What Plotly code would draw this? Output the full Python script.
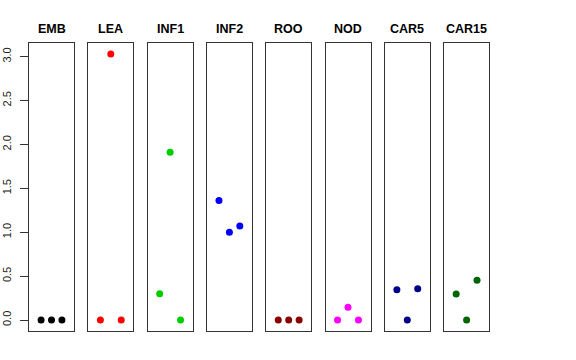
import plotly.graph_objects as go

groups = ["EMB", "LEA", "INF1", "INF2", "ROO", "NOD", "CAR5", "CAR15"]
colors = ["#000000", "#FF0000", "#00CD00", "#0000FF", "#8B0000", "#FF00FF", "#00008B", "#006400"]
x_pos = [1, 2, 3]
values = [
    [0.0, 0.0, 0.0],
    [0.0, 3.03, 0.0],
    [0.30, 1.91, 0.0],
    [1.36, 1.00, 1.07],
    [0.0, 0.0, 0.0],
    [0.0, 0.145, 0.0],
    [0.345, 0.0, 0.357],
    [0.296, 0.0, 0.452],
]
y_ticks = [0.0, 0.5, 1.0, 1.5, 2.0, 2.5, 3.0]

W, H = 576, 360
left0, pitch, pw = 29.0, 59.3, 45.0
top_px, bot_px = 42.7, 331.0

fig = go.Figure()
layout = dict(
    width=W, height=H,
    margin=dict(l=0, r=0, t=0, b=0),
    paper_bgcolor="white", plot_bgcolor="white",
    showlegend=False,
    font=dict(family="Liberation Sans, Arial, sans-serif", color="#000"),
)
annotations = []
for i, (g, c, v) in enumerate(zip(groups, colors, values)):
    xa = "xaxis" if i == 0 else f"xaxis{i+1}"
    ya = "yaxis" if i == 0 else f"yaxis{i+1}"
    xr = "x" if i == 0 else f"x{i+1}"
    yr = "y" if i == 0 else f"y{i+1}"
    fig.add_trace(go.Scatter(x=x_pos, y=v, mode="markers", xaxis=xr, yaxis=yr,
                             marker=dict(color=c, size=7, line=dict(width=0))))
    l = left0 + pitch * i
    dom = [l / W, (l + pw) / W]
    layout[xa] = dict(domain=dom, range=[-0.16, 4.16], showticklabels=False, ticks="",
                      showgrid=False, zeroline=False, showline=True, mirror=True,
                      linecolor="#333", linewidth=1, anchor=yr, fixedrange=True,
                      automargin=False)
    ydict = dict(domain=[(H - bot_px) / H, (H - top_px) / H], range=[-0.125, 3.158],
                 showgrid=False, zeroline=False, showline=True, mirror=True,
                 linecolor="#333", linewidth=1, anchor=xr, fixedrange=True,
                 automargin=False)
    if i == 0:
        ydict.update(tickvals=y_ticks, ticktext=[f"{t:.1f}" for t in y_ticks],
                     ticks="outside", ticklen=8, tickcolor="#333", tickangle=-90,
                     ticklabelstandoff=5,
                     tickfont=dict(size=11, color="#222"))
    else:
        ydict.update(showticklabels=False, ticks="")
    layout[ya] = ydict
    annotations.append(dict(text=f"<b>{g}</b>", x=(l + pw / 2) / W, y=(H - 29) / H,
                            xref="paper", yref="paper", showarrow=False,
                            xanchor="center", yanchor="middle",
                            font=dict(size=12.5, color="#000")))
layout["annotations"] = annotations
fig.update_layout(**layout)
fig.write_html("out.html", config={"displayModeBar": False},
               post_script="document.body.style.margin='0';document.body.style.overflow='hidden';")
